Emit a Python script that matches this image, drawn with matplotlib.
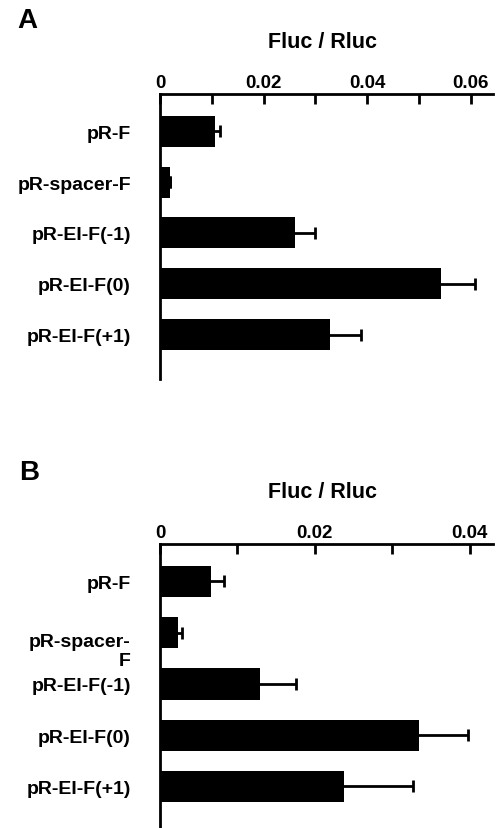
import matplotlib
matplotlib.use("Agg")
import matplotlib.pyplot as plt
from matplotlib.ticker import MultipleLocator
import numpy as np

plt.rcParams['font.family'] = ['Liberation Sans', 'DejaVu Sans']
plt.rcParams['font.weight'] = 'bold'

# データ
labels_a = ["pR-F", "pR-spacer-F", "pR-EI-F(-1)", "pR-EI-F(0)", "pR-EI-F(+1)"]
vals_a = [0.0106, 0.0019, 0.0261, 0.0542, 0.0328]
err_a = [0.0010, 0.0, 0.0038, 0.0066, 0.0060]

labels_b = ["pR-F", "pR-spacer-\nF", "pR-EI-F(-1)", "pR-EI-F(0)", "pR-EI-F(+1)"]
vals_b = [0.0066, 0.0023, 0.0129, 0.0334, 0.0237]
err_b = [0.0017, 0.0006, 0.0046, 0.0064, 0.0090]

W, H = 499, 829
fig = plt.figure(figsize=(W / 100, H / 100), dpi=100)


def panel(top, bottom, labels, vals, errs, xmax, ylim):
    ax = fig.add_axes([160 / W, 1 - bottom / H, (493 - 160) / W, (bottom - top) / H])
    y = np.arange(len(vals))
    ax.barh(y, vals, height=0.61, color="black", zorder=2)
    # 左側はバーの下に隠れる
    ax.errorbar(vals, y, xerr=errs, fmt="none",
                ecolor="black", elinewidth=2, capsize=4, capthick=2, zorder=1)
    ax.set_xlim(0, xmax)
    ax.set_ylim(*ylim)
    for s in ["right", "bottom"]:
        ax.spines[s].set_visible(False)
    for s in ["top", "left"]:
        ax.spines[s].set_linewidth(2)
    ax.xaxis.tick_top()
    ax.xaxis.set_major_locator(MultipleLocator(0.02))
    ax.xaxis.set_minor_locator(MultipleLocator(0.01))
    ax.xaxis.set_major_formatter(lambda v, p: "0" if v == 0 else "%g" % v)
    ax.tick_params(axis="x", which="both", direction="in", length=7, width=2,
                   labelsize=13.5, pad=2)
    ax.set_yticks(y)
    ax.set_yticklabels(labels)
    ax.tick_params(axis="y", length=0, labelsize=14, pad=21)
    for t in ax.get_xticklabels() + ax.get_yticklabels():
        t.set_fontweight("bold")
    return ax


panel(95, 380, labels_a, vals_a, err_a, 0.0643, (4.87, -0.73))
axb = panel(545, 829, labels_b, vals_b, err_b, 0.043, (4.81, -0.73))
axb.get_yticklabels()[1].set_verticalalignment("top")

fig.text(17 / W, 1 - 21 / H, "A", fontsize=20, fontweight="bold", va="center")
fig.text(19 / W, 1 - 473 / H, "B", fontsize=20, fontweight="bold", va="center")
fig.text(322 / W, 1 - 43 / H, "Fluc / Rluc", fontsize=15.5, fontweight="bold",
         ha="center", va="center")
fig.text(322 / W, 1 - 493 / H, "Fluc / Rluc", fontsize=15.5, fontweight="bold",
         ha="center", va="center")

plt.savefig("out.png", dpi=100)
